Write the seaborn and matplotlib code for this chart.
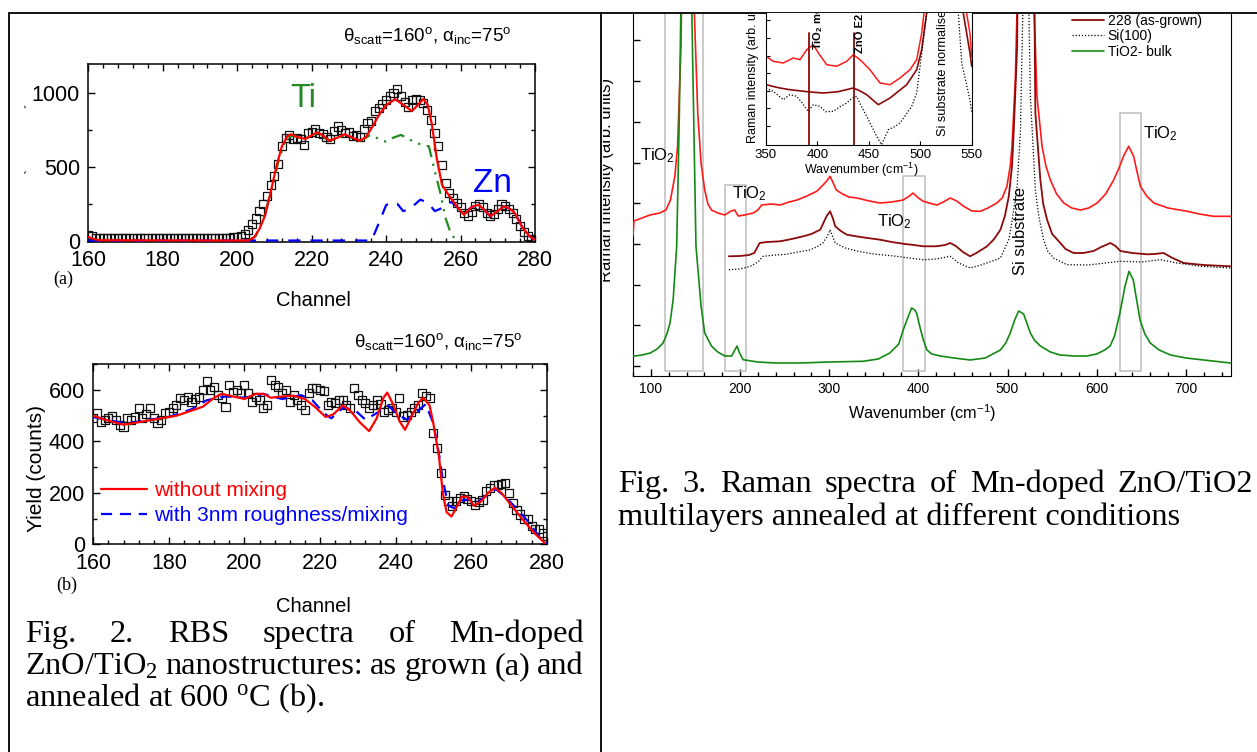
import numpy as np
import pandas as pd
import matplotlib
matplotlib.use("Agg")
import matplotlib.pyplot as plt
from matplotlib.patches import Rectangle
from matplotlib.lines import Line2D
from matplotlib.ticker import MultipleLocator, FixedLocator
from matplotlib.transforms import Bbox, TransformedBbox
import seaborn as sns

# ---------------- Fig. 2 : RBS spectra ----------------
channel = np.arange(160, 281)

# (a) as grown - measured yield
counts_a = [35, 28, 20, 18, 16, 19, 17, 15, 18, 16,
            17, 15, 18, 16, 15, 17, 14, 16, 18, 15,
            17, 16, 15, 18, 20, 17, 15, 16, 18, 17,
            15, 17, 16, 19, 17, 18, 20, 18, 19, 22,
            24, 30, 42, 70, 110, 150, 200, 250, 300, 380,
            440, 520, 640, 700, 720, 690, 700, 690, 650, 730,
            740, 755, 730, 725, 705, 690, 745, 775, 750, 730,
            740, 710, 720, 705, 760, 800, 810, 880, 900, 930,
            955, 985, 1000, 1030, 980, 940, 910, 955, 965, 955,
            935, 890, 820, 730, 640, 515, 390, 320, 290, 255,
            225, 190, 170, 195, 235, 245, 225, 190, 170, 180,
            215, 245, 235, 215, 190, 145, 100, 55, 30, 12, 5]

# (a) simulation: total, Ti part, Zn part
fit_a_ch = [160, 161.5, 163, 200, 203, 204.5, 206, 207.5, 209, 210.5, 212, 213.5, 214.5,
            216, 218.3, 220, 221.5, 223, 224.8, 227, 228.8, 230.5, 232.8, 234.5, 236,
            238, 240, 242.4, 244.5, 246.9, 248.5, 250, 251.2, 252.3, 253.6, 255, 256.8,
            258.6, 260.9, 263.1, 264.9, 266.5, 268, 270, 271.6, 273, 274.5, 276.6, 278.5, 280]
fit_a = [25, 10, 2, 0, 0, 20, 80, 170, 330, 500, 640, 710, 722,
         705, 690, 715, 735, 715, 678, 700, 722, 705, 678, 700, 760,
         850, 920, 960, 925, 880, 920, 963, 920, 790, 560, 380, 310,
         245, 175, 230, 243, 205, 165, 200, 232, 220, 190, 90, 30, 5]
ti_ch = [203, 205, 207, 209, 211, 213, 215, 218, 221, 225, 229, 233, 236, 238,
         240, 242, 244, 246, 248.5, 251.5, 253, 254.5, 256, 257.5, 259]
ti_a = [0, 30, 150, 320, 530, 690, 715, 690, 725, 680, 715, 678, 720, 690,
        672, 700, 718, 690, 660, 640, 480, 330, 150, 40, 0]
zn_ch = [160, 236, 237, 240, 241.5, 243, 244.6, 246, 247.5, 249.2, 251.3, 253.1, 254.5,
         255.8, 257.6, 259, 261, 263, 265, 266.5, 268, 270, 271.6, 273, 274.5, 276.6,
         278.5, 280]
zn_a = [0, 0, 54, 240, 262, 250, 200, 210, 240, 278, 255, 200, 215,
        243, 262, 230, 175, 228, 243, 205, 165, 200, 232, 220, 190, 90,
        30, 5]

# (b) annealed at 600 C - measured yield
counts_b = [490, 510, 477, 484, 490, 497, 484, 465, 458, 490,
            484, 495, 529, 490, 505, 529, 490, 471, 485, 510,
            516, 530, 542, 568, 561, 574, 555, 565, 574, 600,
            635, 600, 613, 580, 568, 535, 619, 594, 600, 587,
            619, 587, 555, 574, 560, 529, 542, 639, 620, 613,
            587, 600, 555, 581, 561, 540, 523, 587, 607, 607,
            600, 595, 542, 555, 548, 561, 561, 540, 529, 607,
            581, 560, 548, 529, 542, 561, 545, 516, 523, 530,
            516, 568, 497, 503, 515, 529, 542, 587, 575, 568,
            432, 374, 277, 193, 167, 148, 167, 180, 187, 175,
            167, 154, 165, 174, 206, 219, 232, 232, 235, 238,
            200, 161, 135, 116, 100, 97, 71, 58, 60, 45, 32]

# (b) simulations
nomix_ch = [160, 163, 168, 172, 178, 182, 186, 189, 192, 194, 197, 200, 203, 205, 207,
            210, 213, 216, 219, 221.5, 223.5, 226, 228, 230.5, 233, 235, 236.8, 237.8,
            239.5, 241, 242.5, 244, 246, 247.3, 249, 250, 251.5, 252.5, 253.5, 254.8,
            256, 257.5, 259, 260.8, 262.5, 264.5, 266.3, 268, 271, 274, 277, 279.5]
nomix_b = [500, 485, 465, 475, 490, 500, 520, 535, 570, 585, 575, 565, 585, 585, 570,
           575, 578, 565, 530, 495, 505, 540, 520, 475, 440, 490, 570, 590,
           540, 480, 445, 490, 550, 570, 540, 470, 340, 200, 125, 108,
           140, 185, 185, 150, 165, 200, 220, 200, 145, 90, 40, 5]
mix_ch = [160, 165, 169, 175, 180, 186, 190, 195, 200, 205, 210, 215, 218, 221, 223,
          226, 229, 232, 235, 238, 241, 243, 246, 248, 250, 251.5, 252.5, 254, 255.5,
          257.5, 259.5, 261.5, 264, 266.5, 269, 272, 275, 278, 280]
mix_b = [495, 480, 470, 485, 495, 525, 560, 575, 570, 585, 565, 580, 560, 510, 490,
         530, 525, 485, 510, 540, 500, 485, 520, 545, 470, 350, 250, 150, 140,
         170, 175, 160, 190, 215, 185, 140, 90, 30, 0]

# ---------------- Fig. 3 : Raman spectra ----------------
wn_film = [80, 81, 90, 99, 110, 117, 122, 127, 130, 133.8, 136, 140, 144, 148.8, 152.6,
           156.3, 160.4, 164, 168, 175, 183, 190, 194, 198, 205, 215, 220, 224.3, 235,
           245, 255, 264, 275, 286, 292, 297, 301, 304, 308, 315, 322, 331, 345, 357,
           370, 383, 390, 394, 400, 405.6, 412, 420.8, 428, 435.8, 443, 450.8, 460,
           469.5, 478, 488, 494, 499.3, 503, 505, 508.7, 511, 515, 520, 526, 529.3,
           533, 538.7, 543, 548, 555, 563, 572, 581.7, 591, 600.4, 610, 619, 625, 630,
           635.8, 641.4, 645, 649, 656, 664, 680, 701.4, 715, 731, 750]
int_film = [140, 155, 158, 161, 163, 166, 176, 200, 230, 330, 480, 900, 900, 363, 263,
            213, 186, 172, 166, 163, 161, 165, 166, 160, 161, 163, 166, 171, 172,
            171, 174, 176, 180, 184.7, 190, 194.7, 199.7, 194, 186, 182, 179, 178, 175, 173,
            174, 176, 180, 183, 178, 174.7, 173, 171, 174, 178, 175, 169.7, 165,
            164.7, 168, 173, 178, 189.7, 210, 229.7, 296, 380, 900, 1500, 900, 380,
            279.7, 229.7, 210, 196, 182, 173, 168, 166, 168, 173, 182, 196, 208, 219.7,
            229.7, 219.7, 205, 189.7, 180, 173, 168, 164.7, 162, 159.7, 159.7]

wn_228 = [187.5, 200, 210, 216, 219, 222, 230, 245, 258, 271, 280, 290, 297, 301, 304,
          306.8, 313, 319.8, 335, 357, 370, 385, 395, 405.6, 420, 430, 435.8, 442, 450,
          458, 465, 477, 485, 492, 497, 501.4, 505, 507, 510.8, 514, 520, 526, 531.2,
          536.8, 540, 544.3, 550, 559.2, 565, 574, 585, 596.5, 605, 615.3, 621, 626.6,
          640, 656.5, 665, 675, 685, 697.6, 720, 750]
int_228 = [119.7, 120, 121, 123, 128, 133, 134, 134.7, 137, 139.7, 142, 146.3, 159.7, 164.7, 158,
           149.7, 145, 141.3, 139, 136.3, 134, 132, 131, 129.7, 129.7, 131, 133, 130, 124,
           119.7, 123, 129.7, 137, 146.3, 160, 179.7, 210, 246.3, 329.7, 800, 1500, 800, 263,
           196, 172, 156.3, 142, 133, 127, 123, 123, 125, 129, 133, 130, 125,
           123, 121.7, 122, 123, 118, 113, 111, 109.7]

wn_si = [187.5, 200, 211.6, 220, 226, 240, 252, 265, 278, 286, 293, 298, 301, 304, 306.8,
         318, 331, 350, 375.8, 390, 405.6, 420, 435.8, 445, 458, 470, 480, 492, 501.4,
         505, 510.8, 514.5, 517, 520.5, 524, 525.6, 531.2, 535, 540.4, 545, 551.6, 566.6,
         590, 610, 626.6, 650, 671.5, 690, 716.4, 750]
int_si = [106.3, 107, 109.7, 114, 119.7, 121, 121.7, 124, 126, 129, 133, 140, 146.3, 139, 133,
          128, 125, 122, 119.7, 118, 116.3, 117, 119.7, 113, 108, 111, 114, 118, 136.3,
          155, 189.7, 246.3, 360, 1200, 360, 279.7, 186, 160, 136.3, 125, 118, 111.3,
          111, 113, 114.7, 114, 116.3, 113, 109.7, 108]

wn_bulk = [80, 90, 99.4, 107, 113.7, 118, 121.5, 125, 129, 132, 133.6, 137, 141, 144, 146,
           150.6, 156.3, 160.4, 168, 175, 183, 190.6, 193, 196.7, 199, 203.4, 220, 240,
           267, 300, 338, 355, 368, 378, 383, 388, 392.4, 396, 398, 402, 405.6, 409.6,
           415, 424.6, 440, 458, 475, 492, 498, 503, 508, 512.4, 518, 522, 525.6, 530,
           536.8, 548, 559, 575, 589, 600, 609, 615, 620, 626, 631.7, 636.2, 641, 644,
           648.6, 654, 660, 670, 682.7, 700, 720, 750]
int_bulk = [19.7, 21, 23, 27, 33, 42, 53, 76, 130, 263, 363, 700, 1000, 700, 363,
            130, 70, 43, 30, 24, 20, 20, 24, 30, 24, 16.3, 14, 13,
            13, 14, 14.7, 17, 23, 32, 46, 58, 68, 66, 63, 48, 36, 26,
            22, 20, 18, 16, 18, 26, 33, 43, 56, 65, 62, 52, 43, 36,
            30, 24, 21, 20, 20, 22, 26, 30, 40, 63, 89.7, 104.7, 96, 80,
            56, 42, 33, 26, 21, 18, 16, 13]

# inset, 350-550 cm-1
in_wn_film = [350, 357, 366.8, 376.5, 383, 389.6, 396, 400.9, 409, 418.7, 428.5, 434.9, 441.4,
              451.1, 460.8, 470.6, 480.3, 490, 496.5, 501.4, 503.6, 506, 540, 545, 548.3, 550]
in_film = [88.4, 83.4, 81.7, 86.7, 85, 95, 100, 91.7, 80, 78.4, 83.4, 90, 85,
           75, 61.7, 60, 66.7, 75, 85, 111.7, 131.7, 170, 170, 131.7, 111.7, 88]
in_wn_228 = [350, 362, 373.3, 390, 405.7, 420, 434.9, 441, 447.9, 459.2, 470.6, 486.8, 496.5,
             501.4, 506.2, 508, 538, 541.8, 548.3, 550]
in_228 = [60, 57, 55, 53, 51.7, 53, 56.7, 54, 50, 40, 46.7, 60, 75,
          95, 131.7, 170, 170, 131.7, 91.7, 78.4]
in_wn_si = [350, 357, 366.8, 373, 379.8, 385, 391.1, 396, 402.4, 408, 415.4, 422, 428.5, 433,
            438.1, 442, 447.9, 452, 457.6, 462.4, 468.9, 475, 480.3, 486, 491.7, 496.5, 501.4,
            506.2, 508, 535, 537, 540.3, 545, 548.3, 550]
in_si = [56.7, 53.4, 45, 50, 48.4, 42, 33.4, 40, 38.4, 33, 33.4, 38, 41.7, 46,
         48.4, 40, 28.4, 20, 8.4, 0, 15, 18, 21.7, 30, 38.4, 51.7, 91.7,
         131.7, 170, 170, 131.7, 81.7, 60, 45, 31.7]
mode_wn = [392, 436]
mode_names = ["TiO$_2$ mode", "ZnO E2 mode"]

# TiO2 band boxes
box_lo = [116, 182.9, 383.3, 626.6]
box_hi = [158.2, 206.5, 406.9, 649.8]
box_top = [600, 191.3, 200.3, 263]

# ---------------- style ----------------
sns.set_style("ticks", {"axes.edgecolor": "black", "xtick.color": "black",
                        "ytick.color": "black", "text.color": "black"})
plt.rcParams["font.family"] = ["Liberation Sans", "DejaVu Sans"]
plt.rcParams["mathtext.default"] = "regular"
SERIF = ["Liberation Serif", "DejaVu Serif"]

W, H = 1257, 752
fig = plt.figure(figsize=(W / 100, H / 100), dpi=100)
fig.patch.set_facecolor("white")


def box(l, t, r, b):
    return [l / W, 1 - b / H, (r - l) / W, (b - t) / H]


def clip_px(l, t, r, b):
    return TransformedBbox(Bbox.from_extents(l / W, 1 - b / H, r / W, 1 - t / H), fig.transFigure)


def ftext(x, y, s, **kw):
    return fig.text(x / W, 1 - y / H, s, **kw)


RED, BLUE, GREEN = "#ff0000", "#0000ff", "#228b22"
sq = dict(marker="s", s=34, fc="none", ec="#111111", linewidth=0.9)

# ---- panel (a) ----
ax_a = fig.add_axes(box(88.3, 64, 535, 241.7))
sns.scatterplot(x=channel, y=counts_a, ax=ax_a, zorder=2, legend=False, **sq)
sns.lineplot(x=ti_ch, y=ti_a, ax=ax_a, color=GREEN, lw=1.6,
             linestyle=(0, (6, 3, 1, 3, 1, 3)), zorder=3, legend=False)
sns.lineplot(x=zn_ch, y=zn_a, ax=ax_a, color=BLUE, lw=1.6,
             linestyle=(0, (5.5, 4.5)), zorder=3, legend=False)
sns.lineplot(x=fit_a_ch, y=fit_a, ax=ax_a, color=RED, lw=1.6, zorder=4, legend=False)
ax_a.set_xlim(160, 280)
ax_a.set_ylim(-8, 1200)
ax_a.yaxis.set_major_locator(FixedLocator([0, 500, 1000]))
ax_a.yaxis.set_minor_locator(FixedLocator([250, 750]))

# ---- panel (b) ----
ax_b = fig.add_axes(box(93.3, 364.3, 546.7, 544.3))
sns.scatterplot(x=channel, y=counts_b, ax=ax_b, zorder=2, legend=False, **sq)
sns.lineplot(x=mix_ch, y=mix_b, ax=ax_b, color=BLUE, lw=1.6, linestyle=(0, (5, 3.5)),
             zorder=3, legend=False, label="with 3nm roughness/mixing")
sns.lineplot(x=nomix_ch, y=nomix_b, ax=ax_b, color=RED, lw=1.6, zorder=4,
             legend=False, label="without mixing")
ax_b.set_xlim(160, 280)
ax_b.set_ylim(0, 700)
ax_b.yaxis.set_major_locator(MultipleLocator(200))
ax_b.yaxis.set_minor_locator(MultipleLocator(100))
h, l = ax_b.get_legend_handles_labels()
ax_b.legend(h[::-1], l[::-1], loc="upper left", bbox_to_anchor=(101 / W, 1 - 481 / H),
            bbox_transform=fig.transFigure, frameon=False, fontsize=15, labelcolor="linecolor",
            handlelength=2.2, handletextpad=0.35, labelspacing=0.28, borderpad=0,
            borderaxespad=0)

for ax in (ax_a, ax_b):
    ax.xaxis.set_major_locator(MultipleLocator(20))
    ax.xaxis.set_minor_locator(MultipleLocator(4))
    ax.tick_params(which="both", direction="in", top=True, right=True, labelsize=15.5,
                   pad=6, width=1)
    ax.tick_params(which="major", length=5)
    ax.tick_params(which="minor", length=3)
    ax.set_xlabel("")
    ax.set_ylabel("")
    for sp in ax.spines.values():
        sp.set_linewidth(1.1)

title = "\u03b8$_{scatt}$=160$^{o}$, \u03b1$_{inc}$=75$^{o}$"
ftext(343, 41, title, fontsize=13.5, va="baseline")
ftext(354, 346.7, title, fontsize=13.5, va="baseline")
ftext(290, 106.7, "Ti", fontsize=23.5, color=GREEN, va="baseline")
ftext(473, 191.7, "Zn", fontsize=24, color=BLUE, va="baseline")
ftext(313, 306, "Channel", fontsize=14.5, ha="center", va="baseline")
ftext(313, 611.7, "Channel", fontsize=14.5, ha="center", va="baseline")
ftext(63, 284, "(a)", fontsize=13, family=SERIF, ha="center", va="baseline")
ftext(67, 590, "(b)", fontsize=13, family=SERIF, ha="center", va="baseline")
ftext(36, 468, "Yield (counts)", fontsize=15, rotation=90, ha="center", va="center")
ftext(18, 165, "Yield (counts)", fontsize=15, rotation=90, ha="center", va="center",
      color="#555555", clip_on=True, clip_box=clip_px(24, 60, 40, 250))

# ---- Raman main panel ----
ax_r = fig.add_axes(box(633, 13, 1230.5, 376))
for lo, hi, top in zip(box_lo, box_hi, box_top):
    ax_r.add_patch(Rectangle((lo, 4.7), hi - lo, top - 4.7, fill=False, ec="#bdbdbd",
                             lw=1.1, zorder=1))
sns.lineplot(x=wn_film, y=int_film, ax=ax_r, color="#ff1a1a", lw=1.2, zorder=3, legend=False)
sns.lineplot(x=wn_228, y=int_228, ax=ax_r, color="#8b0a0a", lw=1.3, zorder=3,
             legend=False, label="228 (as-grown)")
sns.lineplot(x=wn_si, y=int_si, ax=ax_r, color="black", lw=0.9, linestyle=(0, (1, 1.5)),
             zorder=3, legend=False, label="Si(100)")
sns.lineplot(x=wn_bulk, y=int_bulk, ax=ax_r, color="#138a13", lw=1.2, zorder=3,
             legend=False, label="TiO2- bulk")
ax_r.set_xlim(80, 750)
ax_r.set_ylim(0, 363)
ax_r.xaxis.set_major_locator(MultipleLocator(100))
ax_r.xaxis.set_minor_locator(MultipleLocator(20))
ax_r.yaxis.set_major_locator(FixedLocator([10 + 40.7 * k for k in range(9)]))
ax_r.tick_params(which="both", direction="in", labelsize=10, pad=4, width=1)
ax_r.tick_params(which="major", length=5)
ax_r.tick_params(which="minor", length=3)
ax_r.tick_params(axis="y", labelleft=False)
ax_r.spines["top"].set_visible(False)
ax_r.set_xlabel("")
ax_r.set_ylabel("")
h, l = ax_r.get_legend_handles_labels()
ax_r.legend(h, l, loc="upper left", bbox_to_anchor=(1071.7 / W, 1 - 13.5 / H),
            bbox_transform=fig.transFigure, frameon=False, fontsize=10, handlelength=2.3,
            handletextpad=0.3, labelspacing=0.12, borderpad=0, borderaxespad=0)

lab = dict(fontsize=12, va="baseline")
ax_r.text(88, 216, "TiO$_2$", **lab)
ax_r.text(190.8, 178, "TiO$_2$", **lab)
ax_r.text(353.5, 149.7, "TiO$_2$", **lab)
ax_r.text(652, 238, "TiO$_2$", **lab)
ax_r.text(514.3, 145, "Si substrate", fontsize=12, rotation=90, ha="center", va="center")
ftext(922, 413, "Wavenumber (cm$^{-1}$)", fontsize=11.7, ha="center", va="center")
ftext(606, 180, "Raman intensity (arb. units)", fontsize=12, rotation=90, ha="center",
      va="center", clip_on=True, clip_box=clip_px(602.5, 13, 633, 376))
ftext(752.5, 143, "Raman intensity (arb. units)", fontsize=9, rotation=90, ha="center",
      va="bottom", clip_on=True, clip_box=clip_px(633, 13, 1231, 376))

# ---- inset ----
ax_i = fig.add_axes(box(766, 13, 971.7, 144.7), zorder=3)
ax_i.set_facecolor("white")
sns.lineplot(x=in_wn_film, y=in_film, ax=ax_i, color="#ff1a1a", lw=1.1, legend=False)
sns.lineplot(x=in_wn_228, y=in_228, ax=ax_i, color="#8b0a0a", lw=1.2, legend=False)
sns.lineplot(x=in_wn_si, y=in_si, ax=ax_i, color="black", lw=0.9, linestyle=(0, (1, 1.5)),
             legend=False)
ax_i.set_xlim(350, 550)
ax_i.set_ylim(0, 131.7)
for wn, name in zip(mode_wn, mode_names):
    ax_i.axvline(wn, ymin=0, ymax=111.7 / 131.7, color="#8b0a0a", lw=1.3)
ax_i.text(401, 95, mode_names[0], rotation=90, ha="center", va="bottom", fontsize=8,
          fontweight="bold", clip_on=True)
ax_i.text(441.4, 91.7, mode_names[1], rotation=90, ha="center", va="bottom", fontsize=8,
          fontweight="bold", clip_on=True)
ax_i.text(522.4, 8.4, "Si substrate normalised", rotation=90, ha="center", va="bottom",
          fontsize=9.2, clip_on=True)
ax_i.xaxis.set_major_locator(MultipleLocator(50))
ax_i.yaxis.set_major_locator(FixedLocator([18.7 + 17.6 * k for k in range(7)]))
ax_i.tick_params(which="both", direction="in", labelsize=9.5, pad=3, length=3, width=0.8)
ax_i.tick_params(axis="y", labelleft=False)
ax_i.spines["top"].set_visible(False)
ax_i.set_xlabel("")
ax_i.set_ylabel("")
ftext(861.7, 169.5, "Wavenumber (cm$^{-1}$)", fontsize=9, ha="center", va="center")

# ---- table frame ----
fig.add_artist(Line2D([9 / W, 1], [1 - 13.3 / H] * 2, color="black", lw=1.3,
                      transform=fig.transFigure))
fig.add_artist(Line2D([9 / W] * 2, [0, 1 - 13.3 / H], color="black", lw=1.3,
                      transform=fig.transFigure))
fig.add_artist(Line2D([601 / W] * 2, [0, 1 - 13.3 / H], color="black", lw=1.3,
                      transform=fig.transFigure))

# ---- captions (justified) ----
renderer = fig.canvas.get_renderer()
CAP = 23.3


def justify(words, x0, x1, y):
    texts = [ftext(0, y, w, fontsize=CAP, family=SERIF, va="baseline") for w in words]
    widths = [t.get_window_extent(renderer).width for t in texts]
    gap = (x1 - x0 - sum(widths)) / (len(words) - 1)
    x = x0
    for t, w in zip(texts, widths):
        t.set_x(x / W)
        x += w + gap


justify(["Fig.", "2.", "RBS", "spectra", "of", "Mn-doped"], 25, 584, 641.7)
justify(["ZnO/TiO$_2$", "nanostructures:", "as", "grown", "(a)", "and"], 25, 584, 674.3)
ftext(25, 706, "annealed at 600 $^{o}$C (b).", fontsize=CAP, family=SERIF, va="baseline")
justify(["Fig.", "3.", "Raman", "spectra", "of", "Mn-doped", "ZnO/TiO2"], 618, 1253, 491.7)
ftext(618, 525, "multilayers annealed at different conditions", fontsize=CAP, family=SERIF,
      va="baseline")

fig.savefig("out.png", dpi=100, facecolor="white")
